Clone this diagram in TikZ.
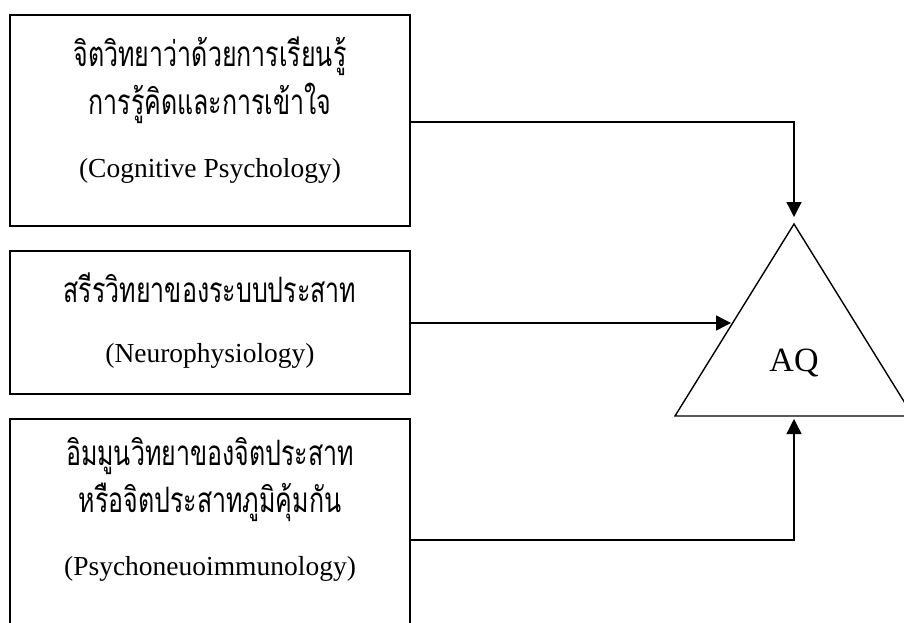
\documentclass[tikz,border=0pt]{standalone}
\usepackage{fontspec}
\usepackage{graphicx}
\setmainfont{Liberation Serif}
\newfontfamily\thaifont[Script=Thai]{Loma}
\usetikzlibrary{arrows.meta}
\newcommand{\thtext}[1]{\scalebox{1}[1.4]{#1}}
\begin{document}
\begin{tikzpicture}[x=1pt,y=-1pt,
  box/.style={draw, line width=1.4pt, minimum width=400pt, inner sep=0pt},
  th/.style={anchor=base, font=\thaifont\fontsize{25}{28}\selectfont},
  en/.style={anchor=base, font=\fontsize{27.5}{32}\selectfont},
  conn/.style={line width=1.4pt, -{Triangle[length=15pt,width=15pt]}}]
\useasboundingbox (0,0) rectangle (904,623);
\clip (0,0) rectangle (904,623);
% boxes
\node[box, minimum height=211pt] (b1) at (210,120.5) {};
\node[box, minimum height=143pt] (b2) at (210,322.5) {};
\node[box, minimum height=221pt] (b3) at (210,529.5) {};
% texts
\node[th] (t11) at (210,67) {\thtext{จิตวิทยาว่าด้วยการเรียนรู้}};
\node[th] (t12) at (210,115) {\thtext{การรู้คิดและการเข้าใจ}};
\node[en] (t13) at (210,177) {(Cognitive Psychology)};
\node[th] (t21) at (210,302) {\thtext{สรีรวิทยาของระบบประสาท}};
\node[en] (t22) at (210,362) {(Neurophysiology)};
\node[th] (t31) at (210,465) {\thtext{อิมมูนวิทยาของจิตประสาท}};
\node[th] (t32) at (210,512) {\thtext{หรือจิตประสาทภูมิคุ้มกัน}};
\node[en] (t33) at (210,575) {(Psychoneuoimmunology)};
% triangle
\coordinate (apex) at (794,224);
\coordinate (bl) at (675,416);
\coordinate (br) at (913,416);
\draw[line width=1.4pt, line join=miter] (apex) -- (bl) -- (br) -- cycle;
\node[anchor=base, font=\fontsize{34}{40}\selectfont] (aq) at (794,371) {AQ};
\coordinate (in1) at (794,217);
\coordinate (in2) at (731,323);
\coordinate (in3) at (794,419);
% connectors
\draw[conn] ([yshift=-1.5pt]b1.east) -| (in1);
\draw[conn] ([yshift=-0.5pt]b2.east) -- (in2);
\draw[conn] ([yshift=-10.5pt]b3.east) -| (in3);
\end{tikzpicture}
\end{document}
